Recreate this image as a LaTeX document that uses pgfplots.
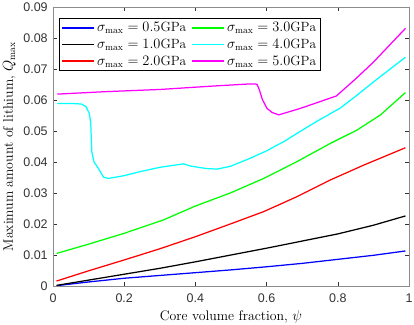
\documentclass[border=0pt]{standalone}
\usepackage{fontspec}
\usepackage{pgfplots}
\pgfplotsset{compat=1.18}
\newfontfamily\tickfont{Liberation Sans}
\definecolor{axgray}{gray}{0.55}
\definecolor{tickgray}{gray}{0.2}
\definecolor{cB}{rgb}{0,0,1}
\definecolor{cK}{rgb}{0,0,0}
\definecolor{cR}{rgb}{1,0,0}
\definecolor{cG}{rgb}{0,1,0}
\definecolor{cC}{rgb}{0,1,1}
\definecolor{cM}{rgb}{1,0,1}
\begin{document}
\begin{tikzpicture}
\begin{axis}[
  width=356pt, height=279pt, scale only axis,
  xmin=0, xmax=1, ymin=0, ymax=0.09,
  xtick={0,0.2,0.4,0.6,0.8,1},
  ytick={0,0.01,0.02,0.03,0.04,0.05,0.06,0.07,0.08,0.09},
  scaled y ticks=false, scaled x ticks=false,
  /pgf/number format/assume math mode=true,
  xticklabel style={/pgf/number format/fixed, /pgf/number format/precision=1, yshift=-4.5pt},
  yticklabel style={/pgf/number format/fixed, /pgf/number format/precision=2, xshift=-1.8pt},
  tick label style={font=\tickfont\fontsize{12.5}{14}\selectfont, text=tickgray},
  tick align=inside,
  major tick length=4pt,
  major tick style={tickgray, line width=0.5pt},
  axis line style={axgray, line width=0.7pt},
  xlabel={Core volume fraction, $\psi$},
  ylabel={Maximum amount of lithium, $Q_{\max}$},
  label style={font=\fontsize{13.8}{16}\selectfont},
  xlabel style={at={(axis description cs:0.5,0)}, anchor=base, yshift=-35pt},
  ylabel style={at={(axis description cs:0,0.5)}, anchor=base, yshift=40pt},
  legend columns=2,
  legend cell align=left,
  legend style={at={(0.017,0.961)}, anchor=north west, draw=black, line width=0.7pt,
    fill=white, font=\fontsize{13.4}{16}\selectfont, inner sep=2pt, row sep=1.8pt,
    /tikz/every even column/.append style={column sep=3pt}},
  legend image code/.code={\draw[#1, line width=1.7pt] (0pt,0pt) -- (32pt,0pt);},
  every axis plot/.append style={line width=1.25pt},
]
\addplot[cB, forget plot] coordinates {(0.01,0.0001) (0.1,0.0013) (0.2,0.0025) (0.3,0.0034) (0.4,0.0043) (0.5,0.0052) (0.6,0.0062) (0.7,0.0073) (0.8,0.0086) (0.9,0.0099) (0.99,0.0113)};
\addplot[cK, forget plot] coordinates {(0.01,0.0002) (0.1,0.0019) (0.2,0.0038) (0.3,0.0057) (0.4,0.0078) (0.5,0.0100) (0.6,0.0122) (0.7,0.0145) (0.8,0.0168) (0.9,0.0196) (0.99,0.0226)};
\addplot[cR, forget plot] coordinates {(0.01,0.0016) (0.1,0.0049) (0.2,0.0084) (0.3,0.0120) (0.4,0.0159) (0.498,0.0200) (0.592,0.0240) (0.685,0.0288) (0.779,0.0342) (0.873,0.0390) (0.99,0.0446)};
\addplot[cG, forget plot] coordinates {(0.01,0.0105) (0.1,0.0135) (0.2,0.0170) (0.31,0.0213) (0.4,0.0258) (0.498,0.0300) (0.592,0.0347) (0.685,0.0401) (0.779,0.0460) (0.854,0.0503) (0.92,0.0552) (0.99,0.0624)};
\addplot[cC, forget plot] coordinates {(0.012,0.0589) (0.05,0.0589) (0.08,0.0587) (0.093,0.0578) (0.102,0.0557) (0.106,0.0525) (0.109,0.0433) (0.115,0.0401) (0.127,0.0380) (0.142,0.0351) (0.156,0.0347) (0.2,0.0356) (0.245,0.0369) (0.301,0.0383) (0.367,0.0394) (0.386,0.0387) (0.43,0.0379) (0.461,0.0377) (0.498,0.0386) (0.554,0.0412) (0.6,0.0436) (0.65,0.0467) (0.699,0.0502) (0.75,0.0537) (0.807,0.0574) (0.85,0.0612) (0.901,0.0659) (0.99,0.0738)};
\addplot[cM, forget plot] coordinates {(0.012,0.0619) (0.15,0.0627) (0.301,0.0634) (0.45,0.0645) (0.555,0.0652) (0.573,0.0651) (0.58,0.0632) (0.588,0.0602) (0.601,0.0573) (0.615,0.0560) (0.634,0.0552) (0.695,0.0573) (0.796,0.0613) (0.85,0.0668) (0.9,0.0722) (0.99,0.0831)};
\addlegendimage{cB}\addlegendentry{$\sigma_{\max}=0.5\mathrm{GPa}$}
\addlegendimage{cG}\addlegendentry{$\sigma_{\max}=3.0\mathrm{GPa}$}
\addlegendimage{cK}\addlegendentry{$\sigma_{\max}=1.0\mathrm{GPa}$}
\addlegendimage{cC}\addlegendentry{$\sigma_{\max}=4.0\mathrm{GPa}$}
\addlegendimage{cR}\addlegendentry{$\sigma_{\max}=2.0\mathrm{GPa}$}
\addlegendimage{cM}\addlegendentry{$\sigma_{\max}=5.0\mathrm{GPa}$}
\end{axis}
\pgfresetboundingbox
\useasboundingbox ([xshift=-53pt,yshift=-39pt]current axis.south west) rectangle ([xshift=5pt,yshift=7pt]current axis.north east);
\end{tikzpicture}
\end{document}
